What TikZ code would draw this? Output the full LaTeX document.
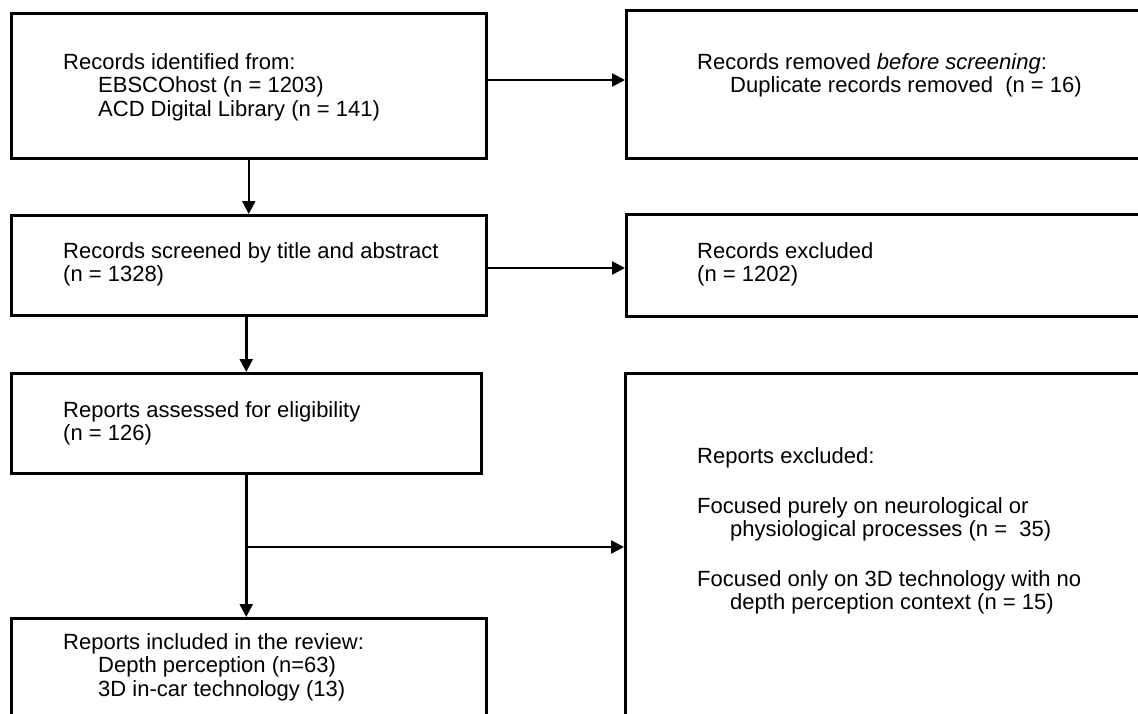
\documentclass[tikz,border=0pt]{standalone}
\usepackage{fontspec}
\setmainfont{Liberation Sans}
\usetikzlibrary{arrows.meta}
\tikzset{
  box/.style={draw=black, line width=2.5pt, rectangle, anchor=north west, inner sep=0pt},
  txt/.style={anchor=base west, inner sep=0pt, font=\fontsize{22pt}{23.5pt}\selectfont},
  arr/.style={line width=2.5pt, -{Triangle[length=13pt,width=13pt]}}
}
\begin{document}
\begin{tikzpicture}[x=1pt,y=-1pt]
\useasboundingbox (0,0) rectangle (1138,713);
\clip (0,0) rectangle (1138,713);
% boxes
\node[box, minimum width=475pt, minimum height=145pt] (b1) at (10,12) {};
\node[box, minimum width=535pt, minimum height=148pt] (b2) at (625,9) {};
\node[box, minimum width=475pt, minimum height=100pt] (b3) at (10,214) {};
\node[box, minimum width=535pt, minimum height=102pt] (b4) at (625,213) {};
\node[box, minimum width=470pt, minimum height=100pt] (b5) at (10,372) {};
\node[box, minimum width=536pt, minimum height=368pt] (b6) at (624,372) {};
\node[box, minimum width=475pt, minimum height=123pt] (b7) at (10,617) {};
% texts
\node[txt] (t1a) at (63,69) {Records identified from:};
\node[txt] (t1b) at (98,92.5) {EBSCOhost (n = 1203)};
\node[txt] (t1c) at (98,116) {ACD Digital Library (n = 141)};
\node[txt] (t2a) at (697,69) {Records removed \textit{before screening}:};
\node[txt] (t2b) at (730,92.5) {Duplicate records removed\ \ (n = 16)};
\node[txt] (t3a) at (63,258) {Records screened by title and abstract};
\node[txt] (t3b) at (63,281.5) {(n = 1328)};
\node[txt] (t4a) at (697,258) {Records excluded};
\node[txt] (t4b) at (697,281.5) {(n = 1202)};
\node[txt] (t5a) at (63,417) {Reports assessed for eligibility};
\node[txt] (t5b) at (63,440.5) {(n = 126)};
\node[txt] (t6a) at (697,463) {Reports excluded:};
\node[txt] (t6b) at (697,513) {Focused purely on neurological or};
\node[txt] (t6c) at (730,536.5) {physiological processes (n = \ 35)};
\node[txt] (t6d) at (697,586) {Focused only on 3D technology with no};
\node[txt] (t6e) at (730,609.5) {depth perception context (n = 15)};
\node[txt] (t7a) at (63,649) {Reports included in the review:};
\node[txt] (t7b) at (98,672.5) {Depth perception (n=63)};
\node[txt] (t7c) at (98,696) {3D in-car technology (13)};
% connectors
\coordinate (y1) at (0,80);
\coordinate (y3) at (0,268);
\coordinate (y5) at (0,547);
\draw[arr] (b1.east |- y1) -- (b2.west |- y1);
\draw[arr] (b1.south) -- (b3.north);
\draw[arr] (b3.east |- y3) -- (b4.west |- y3);
\draw[arr] (b5.north |- b3.south) -- (b5.north);
\draw[arr] (b5.south) -- (b5.south |- b7.north);
\coordinate (j) at (b5.south |- y5);
\draw[arr] (j) -- (j -| b6.west);
\end{tikzpicture}
\end{document}
